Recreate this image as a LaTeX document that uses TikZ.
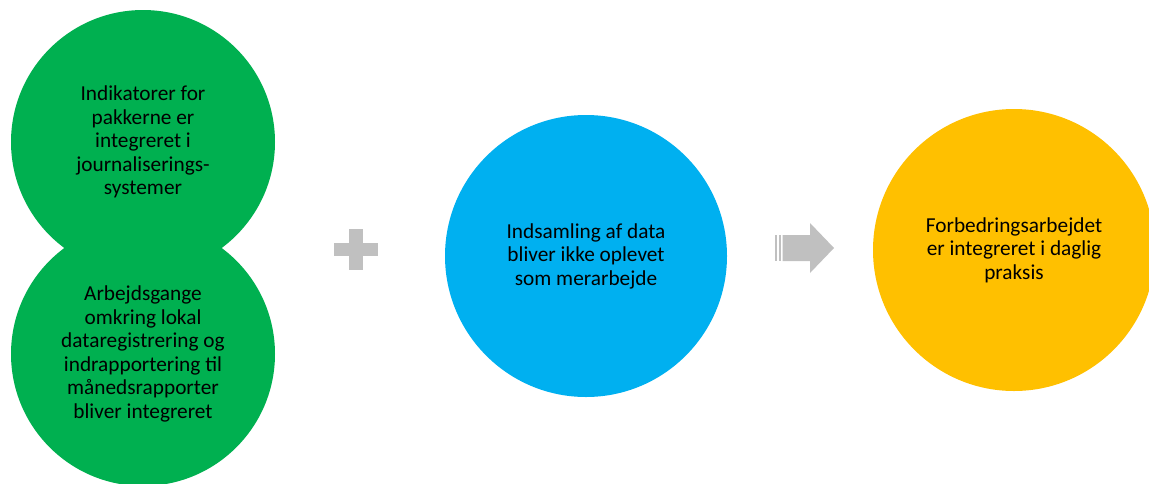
\documentclass[tikz,border=0pt]{standalone}
\usepackage{fontspec}
\setmainfont{Carlito}
\definecolor{cgreen}{HTML}{00B050}
\definecolor{cblue}{HTML}{00B0F0}
\definecolor{cyellow}{HTML}{FFC000}
\definecolor{cgrey}{HTML}{C0C0C0}
\begin{document}
\begin{tikzpicture}[x=1pt,y=-1pt,
  bubble/.style={circle,inner sep=0pt,minimum size=#1,draw=none},
  lbl/.style={align=center,font=\fontsize{21.3}{23.5}\selectfont,text=black,inner sep=0pt},
  sym/.style={fill=cgrey,draw=none}]
\useasboundingbox (0,0) rectangle (1149,483);
\clip (0,0) rectangle (1149,483);
\fill[white] (0,0) rectangle (1149,483);
% circles
\node[bubble=264pt,fill=cgreen] (g1) at (143,142) {};
\node[bubble=264pt,fill=cgreen] (g2) at (143,354) {};
\node[bubble=282pt,fill=cblue] (b) at (586,256) {};
\node[bubble=282pt,fill=cyellow] (y) at (1014,250) {};
% texts
\node[lbl] (t1) at (g1.center) {Indikatorer for\\pakkerne er\\integreret i\\journaliserings-\\systemer};
\node[lbl] (t2) at (g2.center) {Arbejdsgange\\omkring lokal\\dataregistrering og\\indrapportering til\\månedsrapporter\\bliver integreret};
\node[lbl] (t3) at (b.center) {Indsamling af data\\bliver ikke oplevet\\som merarbejde};
\node[lbl] (t4) at (y.center) {Forbedringsarbejdet\\er integreret i daglig\\praksis};
% plus
\fill[sym] (349,229) rectangle (363,270);
\fill[sym] (334,243) rectangle (378,256);
% arrow
\fill[sym] (775,235) rectangle (776.7,261);
\fill[sym] (778.5,235) rectangle (781,261);
\fill[sym] (782.7,235) -- (810,235) -- (810,223) -- (834,248) -- (810,273) -- (810,261) -- (782.7,261) -- cycle;
\end{tikzpicture}
\end{document}
